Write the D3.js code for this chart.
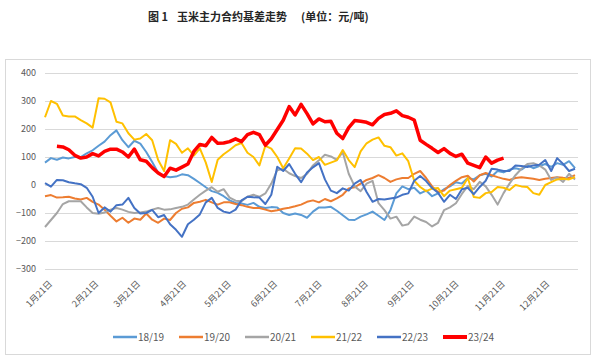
<!DOCTYPE html>
<html><head><meta charset="utf-8">
<script src="https://cdn.jsdelivr.net/npm/d3@7/dist/d3.min.js"></script>
<style>
html,body{margin:0;padding:0;background:#fff;}
svg{display:block;font-family:"Noto Sans CJK SC","Microsoft YaHei",sans-serif;}
</style></head>
<body><svg id="chart" width="600" height="358"></svg>
<script>
const dates = ["2023-01-21","2023-01-25","2023-01-29","2023-02-02","2023-02-06","2023-02-10","2023-02-14","2023-02-18","2023-02-22","2023-02-26",
"2023-03-02","2023-03-06","2023-03-10","2023-03-14","2023-03-18","2023-03-22","2023-03-26","2023-03-30",
"2023-04-03","2023-04-07","2023-04-11","2023-04-15","2023-04-19","2023-04-23","2023-04-27",
"2023-05-01","2023-05-05","2023-05-09","2023-05-13","2023-05-17","2023-05-21","2023-05-25","2023-05-29",
"2023-06-02","2023-06-06","2023-06-10","2023-06-14","2023-06-18","2023-06-22","2023-06-26","2023-06-30",
"2023-07-04","2023-07-08","2023-07-12","2023-07-16","2023-07-20","2023-07-24","2023-07-28",
"2023-08-01","2023-08-05","2023-08-09","2023-08-13","2023-08-17","2023-08-21","2023-08-25","2023-08-29",
"2023-09-02","2023-09-06","2023-09-10","2023-09-14","2023-09-18","2023-09-22","2023-09-26","2023-09-30",
"2023-10-04","2023-10-08","2023-10-12","2023-10-16","2023-10-20","2023-10-24","2023-10-28",
"2023-11-01","2023-11-05","2023-11-09","2023-11-13","2023-11-17","2023-11-21","2023-11-25","2023-11-29",
"2023-12-03","2023-12-07","2023-12-11","2023-12-15","2023-12-19","2023-12-23","2023-12-27","2023-12-31",
"2024-01-04","2024-01-08","2024-01-12"];

const s1819 = [80,96,90,98,95,100,100,113,124,140,
155,178,195,160,135,158,148,118,82,44,
32,28,30,38,35,22,7,-8,-22,-28,
-40,-55,-64,-66,-71,-64,-78,-82,-79,-80,
-100,-107,-102,-107,-117,-95,-80,-80,-78,-92,
-108,-124,-125,-113,-105,-95,-110,-125,-90,-30,
-5,-15,-10,-30,-20,-40,-30,-15,-5,10,
5,25,20,35,40,30,50,45,55,60,
55,70,60,68,75,65,78,72,85,60];

const s1920 = [-40,-36,-45,-44,-42,-48,-52,-46,-60,-70,
-88,-110,-130,-117,-135,-120,-124,-102,-124,-135,
-120,-125,-100,-85,-80,-64,-60,-53,-62,-70,
-62,-62,-68,-72,-78,-82,-82,-88,-94,-90,
-85,-81,-76,-70,-60,-55,-62,-50,-58,-48,
-35,-12,-8,5,18,25,35,25,11,20,
25,25,40,50,25,-5,-25,-20,0,15,
28,33,12,35,43,35,28,22,18,25,
28,25,22,18,22,25,28,26,25,35];

const s2021 = [-150,-125,-100,-68,-58,-58,-58,-80,-100,-103,
-98,-88,-82,-88,-96,-100,-98,-95,-88,-82,
-88,-87,-82,-78,-70,-52,-35,-20,-8,-24,
-15,-45,-56,-58,-42,-35,-42,-30,5,53,
58,42,32,25,40,70,88,108,102,90,
117,40,-5,-22,5,15,-65,-90,-120,-113,
-145,-140,-113,-124,-132,-148,-135,-90,-80,-65,
-32,-3,-15,11,-5,-35,-70,-29,5,35,
58,75,78,70,55,18,28,11,40,20];

const s2122 = [242,300,290,248,245,245,232,220,205,310,
308,295,226,220,185,162,166,182,160,89,
50,160,147,115,131,105,131,80,11,90,
110,125,142,150,115,100,70,140,130,100,
60,95,131,130,112,89,100,72,80,88,
125,89,64,120,149,162,170,140,135,105,
113,85,15,-7,-22,-13,-11,-40,-20,-15,
-10,25,-43,-46,-29,-25,-7,-10,-18,0,
-5,-7,-29,-35,0,10,20,22,20,28];

const s2223 = [7,-6,18,17,10,6,3,-10,-42,-100,
-80,-95,-72,-70,-46,-82,-102,-100,-89,-115,
-107,-140,-160,-185,-140,-124,-105,-62,-46,-82,
-95,-100,-88,-55,-42,-44,-45,-68,-35,65,
50,75,40,10,45,63,78,20,-20,-29,
-12,-20,5,18,-25,-60,-50,-52,-48,-45,
-35,-30,15,32,14,-11,-28,-60,-35,-50,
-15,-10,-33,-7,15,58,55,50,50,70,
68,64,70,72,89,50,96,75,50,58];

const s2324 = [null,null,138,136,126,106,96,100,112,104,
120,128,128,118,100,128,90,85,62,43,
30,60,53,64,75,120,145,140,170,149,
150,155,165,155,180,188,180,142,165,198,
231,280,250,288,255,218,236,226,228,185,
166,205,230,228,224,215,238,252,256,265,
248,242,232,160,145,131,116,130,113,102,
110,78,70,62,100,78,89,96,null,null,
null,null,null,null,null,null,null,null,null,null];

const seriesNames = ["18/19","19/20","20/21","21/22","22/23","23/24"];
const seriesColors = ["#5B9BD5","#ED7D31","#A5A5A5","#FFC000","#4472C4","#FF0000"];
const seriesWidths = [2,2,2,2,2,3.5];
const yTicks = [-300,-200,-100,0,100,200,300,400];
const xTickDates = ["2023-01-21","2023-02-21","2023-03-21","2023-04-21","2023-05-21","2023-06-21","2023-07-21","2023-08-21","2023-09-21","2023-10-21","2023-11-21","2023-12-21"];
const titleParts = ["图 1", "玉米主力合约基差走势", "(单位：元/吨)"];

const allSeries = [s1819,s1920,s2021,s2122,s2223,s2324];
const parse = d3.utcParse("%Y-%m-%d");
const xDates = dates.map(parse);

const svg = d3.select("#chart");
const W = 600, H = 358;
svg.append("rect").attr("width",W).attr("height",H).attr("fill","#fff");

const tt = svg.append("text").attr("y",21).attr("font-size",11).attr("font-weight","bold").attr("fill","#262626");
tt.append("tspan").attr("x",148).text(titleParts[0]);
tt.append("tspan").attr("x",177).attr("textLength",110).text(titleParts[1]);
tt.append("tspan").attr("x",301).text(titleParts[2]);

// chart frame
svg.append("rect").attr("x",5.5).attr("y",59.5).attr("width",585).attr("height",295)
  .attr("fill","none").attr("stroke","#D9D9D9").attr("stroke-width",1);

const x = d3.scaleUtc().domain([parse("2023-01-21"), parse("2024-01-14")]).range([45,578]);
const y = d3.scaleLinear().domain([-300,400]).range([269,73]);

// grid
const grid = svg.append("g");
grid.selectAll("line").data(yTicks).join("line")
  .attr("x1",45).attr("x2",578)
  .attr("y1",d=>Math.round(y(d))+0.5).attr("y2",d=>Math.round(y(d))+0.5)
  .attr("stroke","#D9D9D9").attr("stroke-width",1);

// y axis labels
const yAxis = d3.axisLeft(y).tickValues(yTicks).tickSize(0).tickPadding(0);
const gy = svg.append("g").attr("transform","translate(36,0)").call(yAxis);
gy.select(".domain").remove();
gy.selectAll("text").attr("font-size",9).attr("fill","#595959")
  .attr("font-family","'Noto Sans CJK SC',sans-serif");

// x axis labels
const fmt = d => (d.getUTCMonth()+1) + "月" + d.getUTCDate() + "日";
const xAxis = d3.axisBottom(x).tickValues(xTickDates.map(parse)).tickFormat(fmt).tickSize(0).tickPadding(0);
const gx = svg.append("g").attr("transform","translate(0,280)").call(xAxis);
gx.select(".domain").remove();
gx.selectAll("text")
  .attr("font-size",9).attr("fill","#595959")
  .attr("font-family","'Noto Sans CJK SC',sans-serif")
  .attr("text-anchor","end").attr("dy","0.7em").attr("dx","0")
  .attr("transform","translate(3,0) rotate(-45)");

// lines
const line = d3.line()
  .defined(d => d.v !== null)
  .x(d => x(d.t)).y(d => y(d.v));

allSeries.forEach((s,k) => {
  const data = s.map((v,i) => ({t:xDates[i], v:v}));
  svg.append("path").datum(data)
    .attr("fill","none").attr("stroke",seriesColors[k])
    .attr("stroke-width",seriesWidths[k]).attr("stroke-linejoin","round")
    .attr("d",line);
});

// legend
const lg = svg.append("g");
seriesNames.forEach((n,k) => {
  const lx = 113 + k*66;
  lg.append("line").attr("x1",lx).attr("x2",lx+24).attr("y1",337).attr("y2",337)
    .attr("stroke",seriesColors[k]).attr("stroke-width",seriesWidths[k]+0.5);
  lg.append("text").attr("x",lx+25).attr("y",341).attr("font-size",10).attr("fill","#595959")
    .attr("font-family","'Noto Sans CJK SC',sans-serif").text(n);
});
</script></body></html>
